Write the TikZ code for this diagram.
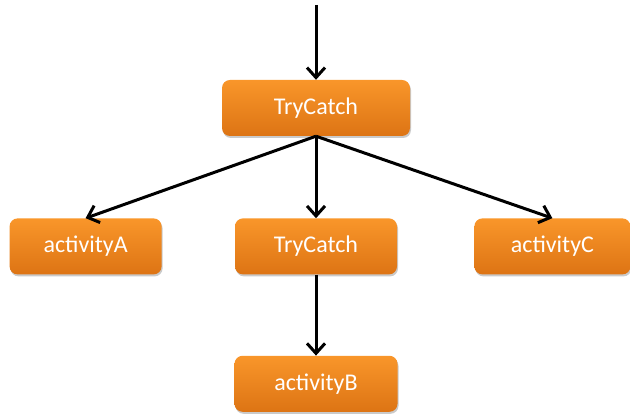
\documentclass[tikz,border=0pt]{standalone}
\usepackage{fontspec}
\setmainfont{Carlito}
\usetikzlibrary{positioning,arrows.meta,shadows}
\definecolor{boxtop}{HTML}{F9962A}
\definecolor{boxbot}{HTML}{DD7414}
\tikzset{
  act/.style={rectangle, rounded corners=8pt, top color=boxtop, bottom color=boxbot,
    draw=none, text=white, font=\fontsize{24pt}{28pt}\selectfont,
    minimum height=56pt, inner sep=0pt,
    drop shadow={shadow xshift=1pt, shadow yshift=-2pt, opacity=0.35, fill=black!60}},
  flow/.style={-{Straight Barb[length=10pt,width=18pt,line width=3pt]}, line width=3pt}
}
\begin{document}
\begin{tikzpicture}[x=1pt, y=1pt]
\useasboundingbox (0,0) rectangle (630,417);
\node (top) [act, minimum width=188pt] at (316,309) {TryCatch};
\node (mid) [act, minimum width=162pt, below=82pt of top] {TryCatch};
\node (A) [act, minimum width=152pt, left=73pt of mid] {activityA};
\node (C) [act, minimum width=156pt, right=77pt of mid] {activityC};
\node (B) [act, minimum width=163pt, below=81pt of mid] {activityB};
\coordinate[above=75pt of top.north] (in);
\draw[flow] (in) -- (top.north);
\draw[flow] (top.south) -- (A.north);
\draw[flow] (top.south) -- (mid.north);
\draw[flow] (top.south) -- (C.north);
\draw[flow] (mid.south) -- (B.north);
\end{tikzpicture}
\end{document}
